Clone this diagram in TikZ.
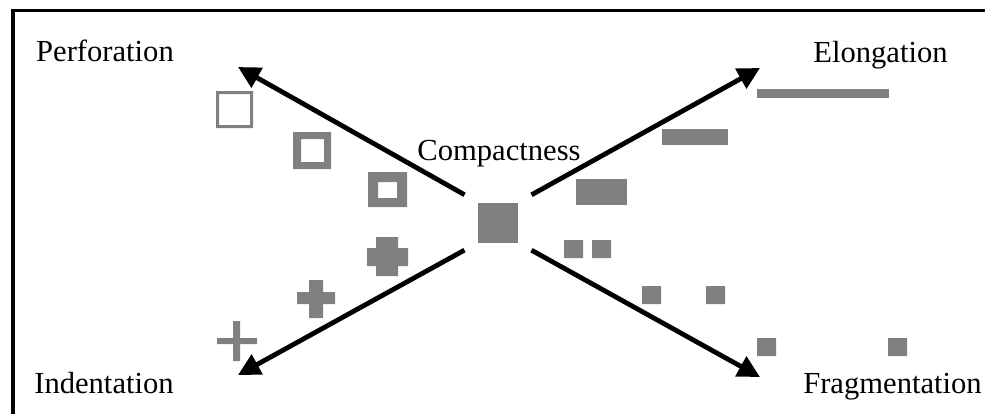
\documentclass[tikz,border=0pt]{standalone}
\usepackage{fontspec}
\setmainfont{Liberation Serif}
\usetikzlibrary{arrows.meta}
\definecolor{shapegray}{RGB}{128,128,128}
\tikzstyle{trend} = [line width=2.4pt, shorten <=7.5pt, -{Triangle[length=11pt,width=11pt]}]
\tikzstyle{axislabel} = [font=\fontsize{15.3}{18}\selectfont, inner sep=0pt, anchor=base]
\tikzstyle{blob} = [fill=shapegray]

\begin{document}
\begin{tikzpicture}[x=0.5pt, y=-0.5pt]
    \useasboundingbox (0,0) rectangle (985,414);
    \draw[line width=1.8pt] (13,414) -- (13,10.5) -- (985,10.5);

    \node[blob, minimum size=20pt, inner sep=0pt] (compact) at (498,222.5) {};
    \node[axislabel] (comptext) at (499,160) {Compactness};
    \node[axislabel] (perf) at (105,61) {Perforation};
    \node[axislabel] (elong) at (880.5,62) {Elongation};
    \node[axislabel] (indent) at (104,393) {Indentation};
    \node[axislabel] (frag) at (892.5,393) {Fragmentation};

    \coordinate (nw) at (238,67);
    \coordinate (ne) at (760,68);
    \coordinate (sw) at (238,375);
    \coordinate (se) at (760,377);
    \draw[trend] (compact.north west) -- (nw);
    \draw[trend] (compact.north east) -- (ne);
    \draw[trend] (compact.south west) -- (sw);
    \draw[trend] (compact.south east) -- (se);

    % perforation: hollow squares, wall gets thicker
    \fill[blob, even odd rule] (216,91) rectangle (253,128) (219,94) rectangle (250,125);
    \fill[blob, even odd rule] (293,132) rectangle (331,169) (301,139) rectangle (324,162);
    \fill[blob, even odd rule] (368,172) rectangle (407,207) (378,182) rectangle (397,198);

    % indentation: crosses
    \fill[blob] (233,321) rectangle (240,361) (217,338) rectangle (257,344);
    \fill[blob] (309,280) rectangle (323,318) (297,292) rectangle (335,304);
    \fill[blob] (376,237) rectangle (398,276) (367,248) rectangle (408,266);

    % elongation
    \fill[blob] (576,179) rectangle (627,205);
    \fill[blob] (662,129) rectangle (728,145);
    \fill[blob] (757,89) rectangle (889,98);

    % fragmentation: pairs drifting apart
    \foreach \xa/\xb/\y in {564/592/240, 642/706/286, 757/888/338}
      \fill[blob] (\xa,\y) rectangle ++(19,18) (\xb,\y) rectangle ++(19,18);
\end{tikzpicture}
\end{document}
